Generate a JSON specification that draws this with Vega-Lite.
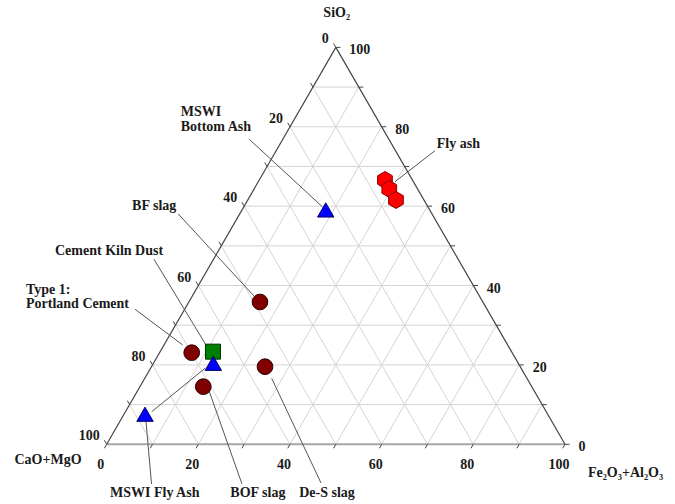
{
  "$schema": "https://vega.github.io/schema/vega-lite/v6.json",
  "width": 675,
  "height": 504,
  "autosize": {"type": "none"},
  "padding": 0,
  "background": "white",
  "config": {
    "view": {"stroke": null},
    "text": {"font": "Liberation Serif", "fontWeight": "bold", "fontSize": 14, "color": "#1a1a1a", "baseline": "middle"}
  },
  "datasets": {
    "grid": [
      {"x": 5, "y": 8.66, "x2": 95, "y2": 8.66}, {"x": 10, "y": 17.32, "x2": 90, "y2": 17.32},
      {"x": 15, "y": 25.98, "x2": 85, "y2": 25.98}, {"x": 20, "y": 34.64, "x2": 80, "y2": 34.64},
      {"x": 25, "y": 43.3, "x2": 75, "y2": 43.3}, {"x": 30, "y": 51.96, "x2": 70, "y2": 51.96},
      {"x": 35, "y": 60.62, "x2": 65, "y2": 60.62}, {"x": 40, "y": 69.28, "x2": 60, "y2": 69.28},
      {"x": 45, "y": 77.94, "x2": 55, "y2": 77.94},
      {"x": 10, "y": 0, "x2": 55, "y2": 77.94}, {"x": 20, "y": 0, "x2": 60, "y2": 69.28},
      {"x": 30, "y": 0, "x2": 65, "y2": 60.62}, {"x": 40, "y": 0, "x2": 70, "y2": 51.96},
      {"x": 50, "y": 0, "x2": 75, "y2": 43.3}, {"x": 60, "y": 0, "x2": 80, "y2": 34.64},
      {"x": 70, "y": 0, "x2": 85, "y2": 25.98}, {"x": 80, "y": 0, "x2": 90, "y2": 17.32},
      {"x": 90, "y": 0, "x2": 95, "y2": 8.66},
      {"x": 90, "y": 0, "x2": 45, "y2": 77.94}, {"x": 80, "y": 0, "x2": 40, "y2": 69.28},
      {"x": 70, "y": 0, "x2": 35, "y2": 60.62}, {"x": 60, "y": 0, "x2": 30, "y2": 51.96},
      {"x": 50, "y": 0, "x2": 25, "y2": 43.3}, {"x": 40, "y": 0, "x2": 20, "y2": 34.64},
      {"x": 30, "y": 0, "x2": 15, "y2": 25.98}, {"x": 20, "y": 0, "x2": 10, "y2": 17.32},
      {"x": 10, "y": 0, "x2": 5, "y2": 8.66}
    ],
    "edges": [
      {"side": "bottom", "x": 0, "y": 0, "x2": 100, "y2": 0},
      {"side": "left", "x": 0, "y": 0, "x2": 50, "y2": 86.6},
      {"side": "right", "x": 100, "y": 0, "x2": 50, "y2": 86.6}
    ],
    "ticks": [
      {"x": 0, "y": 0, "x2": -0.5, "y2": -0.87}, {"x": 10, "y": 0, "x2": 9.5, "y2": -0.87},
      {"x": 20, "y": 0, "x2": 19.5, "y2": -0.87}, {"x": 30, "y": 0, "x2": 29.5, "y2": -0.87},
      {"x": 40, "y": 0, "x2": 39.5, "y2": -0.87}, {"x": 50, "y": 0, "x2": 49.5, "y2": -0.87},
      {"x": 60, "y": 0, "x2": 59.5, "y2": -0.87}, {"x": 70, "y": 0, "x2": 69.5, "y2": -0.87},
      {"x": 80, "y": 0, "x2": 79.5, "y2": -0.87}, {"x": 90, "y": 0, "x2": 89.5, "y2": -0.87},
      {"x": 100, "y": 0, "x2": 99.5, "y2": -0.87},
      {"x": 50, "y": 86.6, "x2": 49.5, "y2": 87.47}, {"x": 45, "y": 77.94, "x2": 44.5, "y2": 78.81},
      {"x": 40, "y": 69.28, "x2": 39.5, "y2": 70.15}, {"x": 35, "y": 60.62, "x2": 34.5, "y2": 61.49},
      {"x": 30, "y": 51.96, "x2": 29.5, "y2": 52.83}, {"x": 25, "y": 43.3, "x2": 24.5, "y2": 44.17},
      {"x": 20, "y": 34.64, "x2": 19.5, "y2": 35.51}, {"x": 15, "y": 25.98, "x2": 14.5, "y2": 26.85},
      {"x": 10, "y": 17.32, "x2": 9.5, "y2": 18.19}, {"x": 5, "y": 8.66, "x2": 4.5, "y2": 9.53},
      {"x": 0, "y": 0, "x2": -0.5, "y2": 0.87},
      {"x": 100, "y": 0, "x2": 101, "y2": 0}, {"x": 95, "y": 8.66, "x2": 96, "y2": 8.66},
      {"x": 90, "y": 17.32, "x2": 91, "y2": 17.32}, {"x": 85, "y": 25.98, "x2": 86, "y2": 25.98},
      {"x": 80, "y": 34.64, "x2": 81, "y2": 34.64}, {"x": 75, "y": 43.3, "x2": 76, "y2": 43.3},
      {"x": 70, "y": 51.96, "x2": 71, "y2": 51.96}, {"x": 65, "y": 60.62, "x2": 66, "y2": 60.62},
      {"x": 60, "y": 69.28, "x2": 61, "y2": 69.28}, {"x": 55, "y": 77.94, "x2": 56, "y2": 77.94},
      {"x": 50, "y": 86.6, "x2": 51, "y2": 86.6}
    ],
    "ticklabels": [
      {"axis": "Fe2O3+Al2O3", "label": "0", "x": 0, "y": 0},
      {"axis": "Fe2O3+Al2O3", "label": "20", "x": 20, "y": 0},
      {"axis": "Fe2O3+Al2O3", "label": "40", "x": 40, "y": 0},
      {"axis": "Fe2O3+Al2O3", "label": "60", "x": 60, "y": 0},
      {"axis": "Fe2O3+Al2O3", "label": "80", "x": 80, "y": 0},
      {"axis": "Fe2O3+Al2O3", "label": "100", "x": 100, "y": 0},
      {"axis": "CaO+MgO", "label": "0", "x": 50, "y": 86.6},
      {"axis": "CaO+MgO", "label": "20", "x": 40, "y": 69.28},
      {"axis": "CaO+MgO", "label": "40", "x": 30, "y": 51.96},
      {"axis": "CaO+MgO", "label": "60", "x": 20, "y": 34.64},
      {"axis": "CaO+MgO", "label": "80", "x": 10, "y": 17.32},
      {"axis": "CaO+MgO", "label": "100", "x": 0, "y": 0},
      {"axis": "SiO2", "label": "100", "x": 50, "y": 86.6},
      {"axis": "SiO2", "label": "80", "x": 60, "y": 69.28},
      {"axis": "SiO2", "label": "60", "x": 70, "y": 51.96},
      {"axis": "SiO2", "label": "40", "x": 80, "y": 34.64},
      {"axis": "SiO2", "label": "20", "x": 90, "y": 17.32},
      {"axis": "SiO2", "label": "0", "x": 100, "y": 0}
    ],
    "leaders": [
      {"to": "MSWI Bottom Ash", "x": 31.11, "y": 66.55, "x2": 47.04, "y2": 51.84},
      {"to": "Fly ash", "x": 71.63, "y": 64.06, "x2": 62.91, "y2": 57.3},
      {"to": "BF slag", "x": 15.62, "y": 50.25, "x2": 32.14, "y2": 32.36},
      {"to": "Cement Kiln Dust", "x": 10.32, "y": 40.37, "x2": 21.67, "y2": 21.67},
      {"to": "Type 1: Portland Cement", "x": 6.18, "y": 29.46, "x2": 16.58, "y2": 21.67},
      {"to": "MSWI Fly Ash", "x": 21.45, "y": 16.58, "x2": 9.82, "y2": 7.11},
      {"to": "MSWI Fly Ash", "x": 8.58, "y": 4.93, "x2": 9.78, "y2": -8.66},
      {"to": "BOF slag", "x": 22.39, "y": 11.48, "x2": 29.52, "y2": -8.66},
      {"to": "De-S slag", "x": 36.0, "y": 14.4, "x2": 46.76, "y2": -8.44}
    ],
    "points": [
      {"material": "Fly ash", "group": "fly", "x": 60.72, "y": 57.67},
      {"material": "Fly ash", "group": "fly", "x": 61.66, "y": 55.71},
      {"material": "Fly ash", "group": "fly", "x": 63.12, "y": 53.31},
      {"material": "MSWI Bottom Ash", "group": "mswi", "x": 47.79, "y": 51.13},
      {"material": "BF slag", "group": "slag", "x": 33.45, "y": 31.05},
      {"material": "Type 1: Portland Cement", "group": "slag", "x": 18.55, "y": 19.99},
      {"material": "Cement Kiln Dust", "group": "ckd", "x": 23.19, "y": 20.21},
      {"material": "MSWI Fly Ash", "group": "mswi", "x": 23.26, "y": 17.67},
      {"material": "MSWI Fly Ash", "group": "mswi", "x": 8.36, "y": 6.55},
      {"material": "BOF slag", "group": "slag", "x": 21.08, "y": 12.57},
      {"material": "De-S slag", "group": "slag", "x": 34.54, "y": 16.93}
    ],
    "labels": [
      {"text": "MSWI", "anchor": "left", "x": 16.14, "y": 72.5},
      {"text": "Bottom Ash", "anchor": "left", "x": 16.14, "y": 69.17},
      {"text": "Fly ash", "anchor": "left", "x": 72.03, "y": 65.52},
      {"text": "BF slag", "anchor": "left", "x": 5.54, "y": 51.89},
      {"text": "Cement Kiln Dust", "anchor": "left", "x": -11.28, "y": 42.24},
      {"text": "Type 1:", "anchor": "left", "x": -17.61, "y": 33.67},
      {"text": "Portland Cement", "anchor": "left", "x": -17.61, "y": 30.61},
      {"text": "MSWI Fly Ash", "anchor": "left", "x": 0.72, "y": -10.63},
      {"text": "Fe₂O₃+Al₂O₃", "anchor": "left", "x": 104.99, "y": -6.2},
      {"text": "SiO₂", "anchor": "center", "x": 50.19, "y": 94.04},
      {"text": "CaO+MgO", "anchor": "center", "x": -12.81, "y": -3.43},
      {"text": "BOF slag", "anchor": "center", "x": 32.98, "y": -10.63},
      {"text": "De-S slag", "anchor": "center", "x": 48.07, "y": -10.63}
    ]
  },
  "encoding": {
    "x": {"field": "x", "type": "quantitative", "scale": {"domain": [-23.28, 124.0], "nice": false, "zero": false}, "axis": null},
    "y": {"field": "y", "type": "quantitative", "scale": {"domain": [-13.03, 96.94], "nice": false, "zero": false}, "axis": null}
  },
  "layer": [
    {
      "data": {"name": "grid"},
      "mark": {"type": "rule", "stroke": "#d4d4d4", "strokeWidth": 1, "clip": false},
      "encoding": {"x2": {"field": "x2"}, "y2": {"field": "y2"}}
    },
    {
      "data": {"name": "edges"},
      "transform": [{"filter": "datum.side === 'bottom'"}],
      "mark": {"type": "rule", "stroke": "#a6a6a6", "strokeWidth": 2},
      "encoding": {"x2": {"field": "x2"}, "y2": {"field": "y2"}}
    },
    {
      "data": {"name": "edges"},
      "transform": [{"filter": "datum.side !== 'bottom'"}],
      "mark": {"type": "rule", "stroke": "#444444", "strokeWidth": 1.2},
      "encoding": {"x2": {"field": "x2"}, "y2": {"field": "y2"}}
    },
    {
      "data": {"name": "ticks"},
      "mark": {"type": "rule", "stroke": "#444444", "strokeWidth": 1},
      "encoding": {"x2": {"field": "x2"}, "y2": {"field": "y2"}}
    },
    {
      "data": {"name": "leaders"},
      "mark": {"type": "rule", "stroke": "#555555", "strokeWidth": 1},
      "encoding": {"x2": {"field": "x2"}, "y2": {"field": "y2"}}
    },
    {
      "data": {"name": "points"},
      "mark": {"type": "point", "filled": true, "opacity": 1, "strokeWidth": 1},
      "encoding": {
        "shape": {"field": "group", "type": "nominal", "legend": null,
          "scale": {"domain": ["fly", "mswi", "slag", "ckd"], "range": ["M0,-1L0.866,-0.5L0.866,0.5L0,1L-0.866,0.5L-0.866,-0.5Z", "triangle-up", "circle", "square"]}},
        "fill": {"field": "group", "type": "nominal", "legend": null,
          "scale": {"domain": ["fly", "mswi", "slag", "ckd"], "range": ["#ff0000", "#0000ff", "#800000", "#008000"]}},
        "stroke": {"field": "group", "type": "nominal", "legend": null,
          "scale": {"domain": ["fly", "mswi", "slag", "ckd"], "range": ["#8b0000", "#000060", "#2a0000", "#003000"]}},
        "size": {"field": "group", "type": "nominal", "legend": null,
          "scale": {"domain": ["fly", "mswi", "slag", "ckd"], "range": [289, 225, 400, 169]}}
      }
    },
    {
      "data": {"name": "ticklabels"},
      "transform": [{"filter": "datum.axis === 'Fe2O3+Al2O3'"}],
      "mark": {"type": "text", "align": "center", "dx": -6, "dy": 21},
      "encoding": {"text": {"field": "label"}}
    },
    {
      "data": {"name": "ticklabels"},
      "transform": [{"filter": "datum.axis === 'CaO+MgO'"}],
      "mark": {"type": "text", "align": "right", "dx": -7, "dy": -8},
      "encoding": {"text": {"field": "label"}}
    },
    {
      "data": {"name": "ticklabels"},
      "transform": [{"filter": "datum.axis === 'SiO2'"}],
      "mark": {"type": "text", "align": "left", "dx": 13.5, "dy": 3},
      "encoding": {"text": {"field": "label"}}
    },
    {
      "data": {"name": "labels"},
      "transform": [{"filter": "datum.anchor === 'left'"}],
      "mark": {"type": "text", "align": "left"},
      "encoding": {"text": {"field": "text"}}
    },
    {
      "data": {"name": "labels"},
      "transform": [{"filter": "datum.anchor === 'center'"}],
      "mark": {"type": "text", "align": "center"},
      "encoding": {"text": {"field": "text"}}
    }
  ]
}
